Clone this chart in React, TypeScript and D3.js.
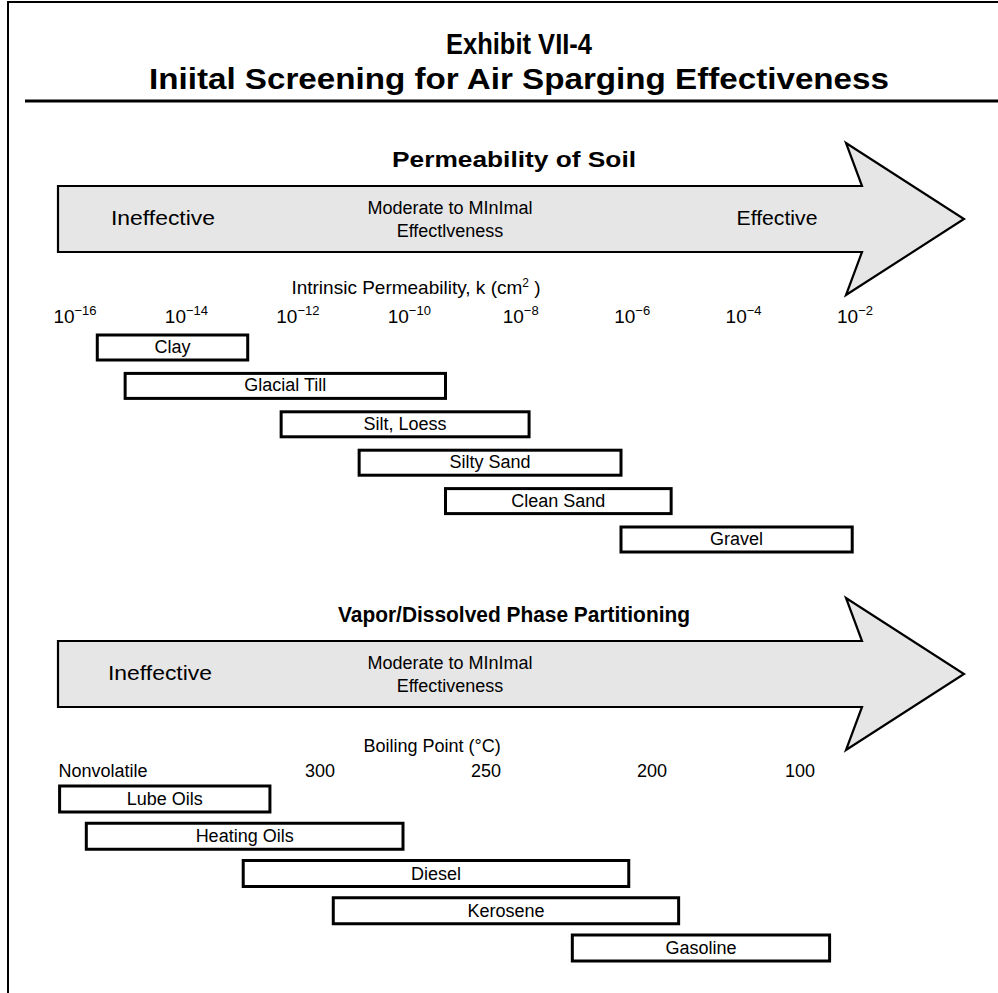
import React from "react";
import * as d3 from "d3";

const W = 998;
const H = 993;

// soil permeability ranges, as log10(k) in cm^2
const soilTypes = ["Clay", "Glacial Till", "Silt, Loess", "Silty Sand", "Clean Sand", "Gravel"];
const soilLogKMin = [-15.6, -15.1, -12.3, -10.9, -9.35, -6.2];
const soilLogKMax = [-12.9, -9.35, -7.85, -6.2, -5.3, -2.05];
const permTickExps = [-16, -14, -12, -10, -8, -6, -4, -2];

// boiling point ranges, degrees C
const fuelTypes = ["Lube Oils", "Heating Oils", "Diesel", "Kerosene", "Gasoline"];
const fuelBpHigh = [378, 370, 323, 296, 224];
const fuelBpLow = [315, 275, 207, 182, 80];
const bpTickLabels = ["Nonvolatile", "300", "250", "200", "100"];
const bpTickValues = [365, 300, 250, 200, 100];

const FONT = "'Liberation Sans', Arial, sans-serif";

const kScale = d3.scaleLog().domain([1e-16, 1e-2]).range([75, 855]);
const bpScale = d3.scaleLinear().domain(bpTickValues).range([103, 320, 486, 652, 800]);

const soilY = d3.scalePoint<string>().domain(soilTypes).range([335, 527]);
const fuelY = d3.scalePoint<string>().domain(fuelTypes).range([786, 935]);

const line = d3.line();

function arrowPath(top: number, bodyH: number, over: number) {
  const x0 = 58, joinX = 862, vertexX = 846, tipX = 964;
  const pts: [number, number][] = [
    [x0, top],
    [joinX, top],
    [vertexX, top - over],
    [tipX, top + bodyH / 2],
    [vertexX, top + bodyH + over],
    [joinX, top + bodyH],
    [x0, top + bodyH],
  ];
  return line(pts) + "Z";
}

const Section = ({ dy, title, titleSize, titleLen, effective }: { dy: number; title: string; titleSize: number; titleLen?: number; effective: boolean }) => (
  <g transform={`translate(0,${dy})`}>
    <text x={514} y={167} textAnchor="middle" fontSize={titleSize} fontWeight="bold"
      textLength={titleLen} lengthAdjust="spacingAndGlyphs">{title}</text>
    <path d={arrowPath(186, 66, 43)} fill="#e6e6e6" stroke="#000" strokeWidth={2.2} strokeLinejoin="miter" />
    <text x={effective ? 163 : 160} y={225} textAnchor="middle" fontSize={20} textLength={104} lengthAdjust="spacingAndGlyphs">Ineffective</text>
    <text x={450} y={214} textAnchor="middle" fontSize={18}>Moderate to MInImal</text>
    <text x={450} y={237} textAnchor="middle" fontSize={18}>{effective ? "Effectlveness" : "Effectiveness"}</text>
    {effective && <text x={777} y={225} textAnchor="middle" fontSize={20} textLength={81} lengthAdjust="spacingAndGlyphs">Effective</text>}
  </g>
);

export default function App() {
  return (
    <svg width={W} height={H} style={{ position: "absolute", left: 0, top: 0, display: "block" }} fontFamily={FONT}>
      <rect width={W} height={H} fill="#fff" />
      {/* frame */}
      <path d={`M8,${H}V2H${W}`} fill="none" stroke="#000" strokeWidth={2} />
      <text x={519} y={54} textAnchor="middle" fontSize={29} fontWeight="bold"
        textLength={146} lengthAdjust="spacingAndGlyphs">Exhibit VII-4</text>
      <text x={519} y={89} textAnchor="middle" fontSize={29} fontWeight="bold"
        textLength={740} lengthAdjust="spacingAndGlyphs">Iniital Screening for Air Sparging Effectiveness</text>
      <line x1={25} x2={W} y1={101} y2={101} stroke="#000" strokeWidth={3} />

      <Section dy={0} title="Permeability of Soil" titleSize={22} titleLen={244} effective={true} />
      <text x={416} y={294} textAnchor="middle" fontSize={19}>
        Intrinsic Permeability, k (cm<tspan dy={-7} fontSize={12}>2</tspan><tspan dy={7}> )</tspan>
      </text>
      {permTickExps.map((e) => (
        <text key={e} x={kScale(Math.pow(10, e))} y={323} textAnchor="middle" fontSize={19}>
          10<tspan dy={-8} fontSize={13}>{"\u2212" + Math.abs(e)}</tspan>
        </text>
      ))}
      {soilTypes.map((s, i) => {
        const x0 = kScale(Math.pow(10, soilLogKMin[i]));
        const x1 = kScale(Math.pow(10, soilLogKMax[i]));
        const y = soilY(s)!;
        return (
          <g key={s}>
            <rect x={x0} y={y} width={x1 - x0} height={25} fill="#fff" stroke="#000" strokeWidth={3} />
            <text x={(x0 + x1) / 2} y={y + 18} textAnchor="middle" fontSize={18}>{s}</text>
          </g>
        );
      })}

      <Section dy={455} title="Vapor/Dissolved Phase Partitioning" titleSize={22} titleLen={352} effective={false} />
      <text x={432} y={752} textAnchor="middle" fontSize={18}>Boiling Point (°C)</text>
      {bpTickLabels.map((t, i) => (
        <text key={t} x={bpScale(bpTickValues[i])} y={777} textAnchor="middle" fontSize={18}>{t}</text>
      ))}
      {fuelTypes.map((f, i) => {
        const x0 = bpScale(fuelBpHigh[i]);
        const x1 = bpScale(fuelBpLow[i]);
        const y = fuelY(f)!;
        return (
          <g key={f}>
            <rect x={x0} y={y} width={x1 - x0} height={26} fill="#fff" stroke="#000" strokeWidth={3} />
            <text x={(x0 + x1) / 2} y={y + 19} textAnchor="middle" fontSize={18}>{f}</text>
          </g>
        );
      })}
    </svg>
  );
}
